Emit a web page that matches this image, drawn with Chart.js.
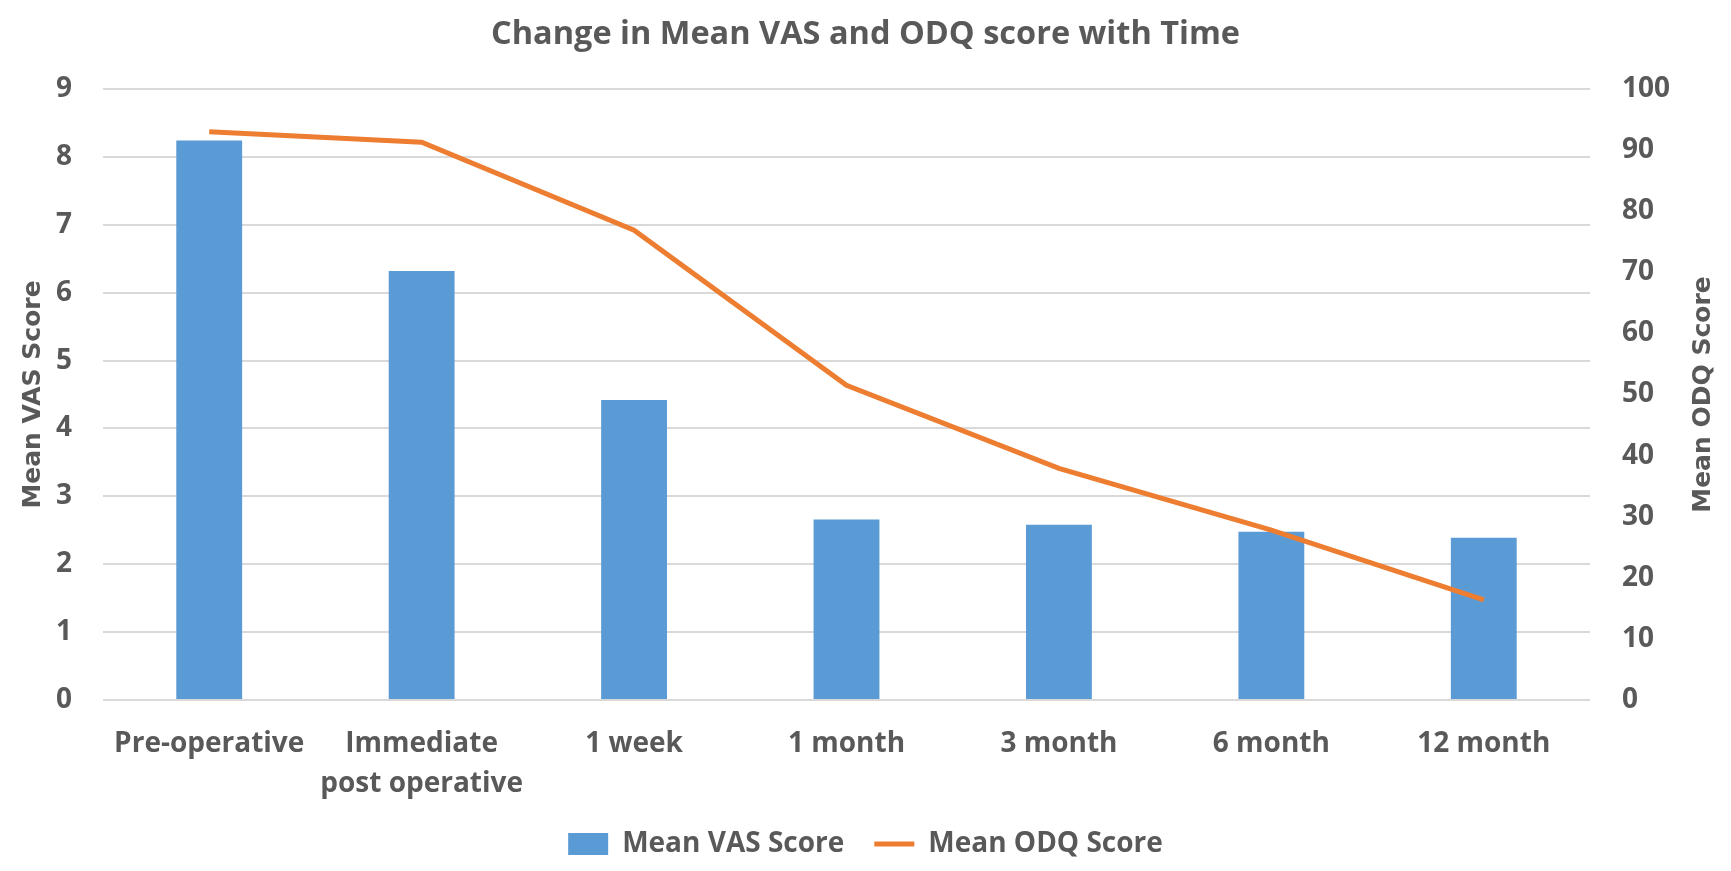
<!DOCTYPE html>
<html>
<head>
<meta charset="utf-8">
<title>Change in Mean VAS and ODQ score with Time</title>
<script src="https://cdn.jsdelivr.net/npm/chart.js@4.4.1/dist/chart.umd.min.js"></script>
<style>
  html, body { margin: 0; padding: 0; background: #fff; }
  #wrap { width: 1731px; height: 871px; position: relative; }
</style>
</head>
<body>
<div id="wrap"><canvas id="chart"></canvas></div>
<script>
// Dados
const categories = ['Pre-operative', ['Immediate', 'post operative'], '1 week', '1 month', '3 month', '6 month', '12 month'];
const vasScores = [8.24, 6.32, 4.42, 2.66, 2.58, 2.48, 2.39];
const odqScores = [93.0, 91.3, 76.9, 51.5, 37.9, 27.8, 16.4];

const textColor = '#595959';
const tickFont = { family: '"Open Sans", sans-serif', size: 28, weight: 'bold', lineHeight: 1.42 };
const legendFont = { family: '"Open Sans", sans-serif', size: 28, weight: 'bold' };
const axisTitleFont = { family: '"DejaVu Sans", sans-serif', size: 25, weight: 'bold' };

// Título do eixo direito, lido de baixo para cima como no original
const rightTitlePlugin = {
    id: 'rightTitle',
    afterDraw(c) {
        const area = c.chartArea;
        const g = c.ctx;
        g.save();
        g.translate(1703, (area.top + area.bottom) / 2);
        g.rotate(-Math.PI / 2);
        g.fillStyle = textColor;
        g.font = 'bold 25px "DejaVu Sans", sans-serif';
        g.textAlign = 'center';
        g.textBaseline = 'middle';
        g.fillText('Mean ODQ Score', 0, 0);
        g.restore();
    }
};

const ctx = document.getElementById('chart').getContext('2d');
const chart = new Chart(ctx, {
    type: 'bar',
    data: {
        labels: categories,
        datasets: [
            {
                type: 'bar',
                label: 'Mean VAS Score',
                data: vasScores,
                backgroundColor: '#5B9BD5',
                borderWidth: 0,
                yAxisID: 'y',
                order: 1,
                categoryPercentage: 1,
                barPercentage: 0.31
            },
            {
                type: 'line',
                label: 'Mean ODQ Score',
                data: odqScores,
                borderColor: '#ED7D31',
                backgroundColor: '#ED7D31',
                borderWidth: 5,
                pointRadius: 0,
                tension: 0,
                yAxisID: 'y1',
                order: 0
            }
        ]
    },
    plugins: [rightTitlePlugin],
    options: {
        responsive: true,
        maintainAspectRatio: false,
        devicePixelRatio: 1,
        animation: false,
        layout: { padding: { left: 0, right: 0, top: 0, bottom: 3 } },
        plugins: {
            title: {
                display: true,
                text: 'Change in Mean VAS and ODQ score with Time',
                color: textColor,
                font: { family: '"Open Sans", sans-serif', size: 32.5, weight: 'bold' },
                padding: { top: 15, bottom: 35 }
            },
            legend: {
                position: 'bottom',
                labels: {
                    color: textColor,
                    font: legendFont,
                    usePointStyle: true,
                    pointStyleWidth: 40,
                    boxHeight: 22,
                    padding: 30,
                    sort: (a, b) => a.datasetIndex - b.datasetIndex,
                    generateLabels: (c) => {
                        const items = Chart.defaults.plugins.legend.labels.generateLabels(c);
                        items.forEach(it => {
                            it.pointStyle = it.datasetIndex === 0 ? 'rect' : 'line';
                        });
                        return items;
                    }
                }
            },
            tooltip: { enabled: false }
        },
        scales: {
            x: {
                grid: { display: false },
                border: { display: false },
                ticks: { color: textColor, font: tickFont, padding: 16, maxRotation: 0, autoSkip: false },
                afterFit: (scale) => { scale.height = 100; }
            },
            y: {
                position: 'left',
                min: 0,
                max: 9,
                ticks: { stepSize: 1, color: textColor, font: tickFont, padding: 31 },
                grid: { color: '#D9D9D9', lineWidth: 2, drawTicks: false },
                border: { display: false },
                title: { display: true, text: 'Mean VAS Score', color: textColor, font: axisTitleFont, padding: { top: 18, bottom: 0 } },
                afterFit: (scale) => { scale.width = 103; }
            },
            y1: {
                position: 'right',
                min: 0,
                max: 100,
                ticks: { stepSize: 10, color: textColor, font: tickFont, padding: 32 },
                grid: { display: false, drawTicks: false },
                border: { display: false },
                title: { display: false },
                afterFit: (scale) => { scale.width = 141; }
            }
        }
    }
});
</script>
</body>
</html>
